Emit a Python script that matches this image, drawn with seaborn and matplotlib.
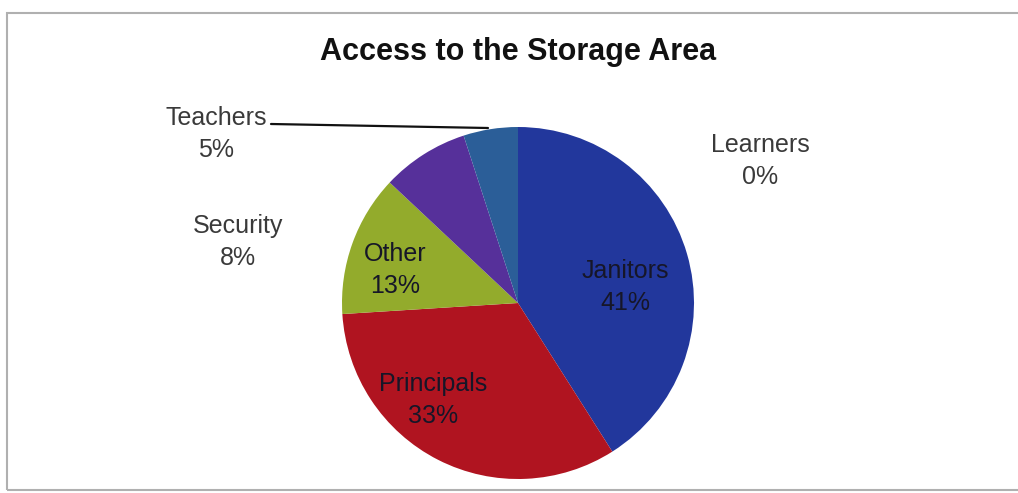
import matplotlib
matplotlib.use("Agg")
import matplotlib.pyplot as plt
import seaborn as sns
from matplotlib.patches import Rectangle
from matplotlib.lines import Line2D

sns.set_theme(style="white")
plt.rcParams["font.family"] = ["Liberation Sans", "DejaVu Sans"]

# Who has access to the storage area (percent)
categories = ["Janitors", "Principals", "Other", "Security", "Teachers", "Learners"]
shares = [41, 33, 13, 8, 5, 0]
colors = ["#22379c", "#b01420", "#93ab2c", "#56309a", "#2b5e98", "#4a7fc0"]
title = "Access to the Storage Area"

W, H = 1018, 493
fig = plt.figure(figsize=(W / 100, H / 100), dpi=100)
ax = fig.add_axes([0, 0, 1, 1])

cx, cy, r = 518, H - 303, 176
ax.pie(shares, colors=colors, startangle=90, counterclock=False,
       center=(cx, cy), radius=r,
       wedgeprops=dict(linewidth=0, edgecolor="none"))
ax.set_xlim(0, W)
ax.set_ylim(0, H)
ax.set_aspect("equal")
ax.axis("off")

# chart frame
fig.patches.append(Rectangle((7 / W, 1 - 490 / H), (W + 10) / W, (490 - 13) / H,
                             transform=fig.transFigure, fill=False,
                             edgecolor="#b0b0b0", linewidth=1.5))

ax.text(518, H - 52, title, ha="center", va="center", fontsize=22,
        fontweight="bold", color="#111111")

# label placement (pixel positions, y measured from top)
label_pos = {
    "Janitors": (625, 287, "inside"),
    "Principals": (433, 400, "inside"),
    "Other": (395, 270, "inside"),
    "Security": (238, 242, "outside"),
    "Teachers": (216, 134, "outside"),
    "Learners": (760, 161, "outside"),
}
for name, val in zip(categories, shares):
    x, y, kind = label_pos[name]
    col = "#161628" if kind == "inside" else "#3a3a3a"
    ax.text(x, H - y, f"{name}\n{val}%", ha="center", va="center",
            fontsize=18, color=col, linespacing=1.4)

# leader line for the Teachers slice
ax.add_line(Line2D([271, 488], [H - 124, H - 128], color="#111111", linewidth=1.6))

fig.savefig("out.png", dpi=100, facecolor="white")
